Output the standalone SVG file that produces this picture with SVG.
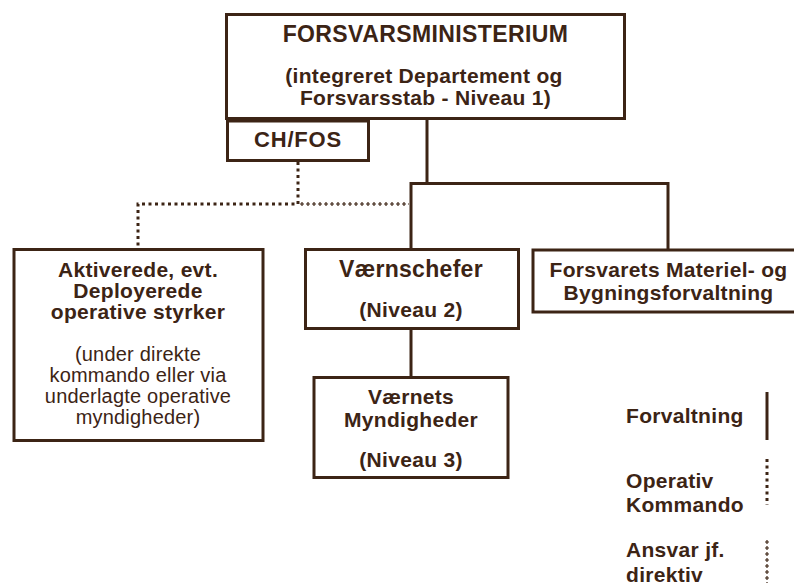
<svg xmlns="http://www.w3.org/2000/svg" width="794" height="583" viewBox="0 0 794 583">
<style>
.box{fill:#fff;stroke:#3c2415;stroke-width:3}
.t{font-family:"Liberation Sans",Arial,sans-serif;font-weight:bold;font-size:21px;fill:#3c2415;text-anchor:middle;letter-spacing:0.3px}
.r{font-weight:normal;font-size:20px;letter-spacing:0.2px}
.l{text-anchor:start}
.solid{stroke:#3c2415;stroke-width:3;fill:none}
.op{stroke:#3c2415;stroke-width:3;stroke-dasharray:3 3.5;fill:none}
.ansa{stroke:#3c2415;stroke-width:1.2;stroke-dasharray:4 2;fill:none}
.ansb{stroke:#3c2415;stroke-width:4;stroke-dasharray:1.2 4.8;stroke-dashoffset:4.6;fill:none}
</style>
<rect width="794" height="583" fill="#fff"/>
<g id="connectors">
<path class="solid" d="M427,119 V183.5 M409.5,183.5 H669.5 M411,182 V249 M668,182 V249 M411,329 V377"/>
<path class="op" d="M298,162 V204 H138 V248"/>
<path class="ansa" d="M300,204 H409"/>
<path class="ansb" d="M300,204 H409"/>
</g>
<g id="forsvarsministerium">
<rect class="box" x="226.5" y="14.5" width="398" height="104"/>
<text class="t" x="425.5" y="42" style="font-size:23px;letter-spacing:0.4px">FORSVARSMINISTERIUM</text>
<text class="t" x="424" y="83">(integreret Departement og</text>
<text class="t" x="425.5" y="105">Forsvarsstab - Niveau 1)</text>
</g>
<g id="chfos">
<rect class="box" x="227.5" y="121" width="141" height="39.5"/>
<text class="t" x="298" y="147" style="font-size:22px;letter-spacing:0.8px">CH/FOS</text>
</g>
<g id="aktiverede">
<rect class="box" x="14" y="249.5" width="249" height="191"/>
<text class="t" x="138" y="277">Aktiverede, evt.</text>
<text class="t" x="138" y="298">Deployerede</text>
<text class="t" x="138" y="319">operative styrker</text>
<text class="t r" x="138" y="361">(under direkte</text>
<text class="t r" x="138" y="382">kommando eller via</text>
<text class="t r" x="138" y="403">underlagte operative</text>
<text class="t r" x="138" y="424">myndigheder)</text>
</g>
<g id="vaernschefer">
<rect class="box" x="305.5" y="249.5" width="213" height="79"/>
<text class="t" x="411" y="277" style="font-size:23px;letter-spacing:0.3px">Værnschefer</text>
<text class="t" x="411" y="317">(Niveau 2)</text>
</g>
<g id="fmb">
<rect class="box" x="533" y="250" width="270" height="62"/>
<text class="t" x="668.5" y="277">Forsvarets Materiel- og</text>
<text class="t" x="668.5" y="300">Bygningsforvaltning</text>
</g>
<g id="vaernets">
<rect class="box" x="314" y="377.5" width="194" height="100"/>
<text class="t" x="411" y="404">Værnets</text>
<text class="t" x="411" y="427">Myndigheder</text>
<text class="t" x="411" y="467">(Niveau 3)</text>
</g>
<g id="legend">
<text class="t l" x="626" y="423">Forvaltning</text>
<path class="solid" d="M767,392 V440"/>
<text class="t l" x="626" y="488">Operativ</text>
<text class="t l" x="626" y="512">Kommando</text>
<path class="op" d="M767,459 V505"/>
<text class="t l" x="626" y="557">Ansvar jf.</text>
<text class="t l" x="626" y="582">direktiv</text>
<path class="ansa" d="M767,540 V583"/>
<path class="ansb" d="M767,540 V583"/>
</g>
</svg>
